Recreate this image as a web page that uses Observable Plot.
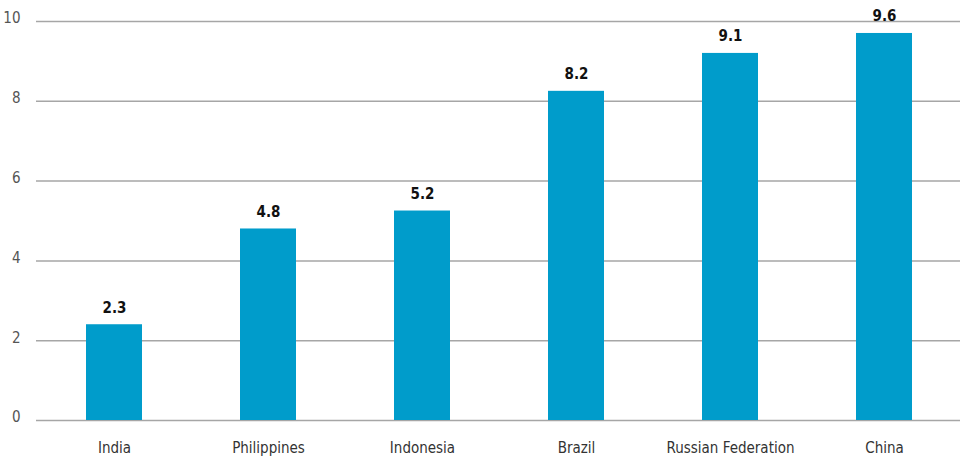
<!DOCTYPE html>
<html>
<head>
<meta charset="utf-8">
<script src="https://cdn.jsdelivr.net/npm/d3@7"></script>
<script src="https://cdn.jsdelivr.net/npm/@observablehq/plot@0.6"></script>
<style>
  html, body { margin: 0; padding: 0; background: #fff; }
  #chart svg { display: block; }
  #chart svg text { font-stretch: condensed; }
</style>
</head>
<body>
<div id="chart"></div>
<script>
const countries = ["India", "Philippines", "Indonesia", "Brazil", "Russian Federation", "China"];
const values = [2.4, 4.8, 5.25, 8.25, 9.2, 9.7];
const labels = ["2.3", "4.8", "5.2", "8.2", "9.1", "9.6"];
const yTicks = [0, 2, 4, 6, 8, 10];

const data = countries.map((c, i) => ({country: c, value: values[i], label: labels[i]}));
const font = "'DejaVu Sans Condensed', 'DejaVu Sans', sans-serif";

const chart = Plot.plot({
  width: 960,
  height: 459,
  marginLeft: 36,
  marginRight: 0,
  marginTop: 21,
  marginBottom: 39,
  style: {fontFamily: font, background: "#fff"},
  x: {domain: countries, range: [36, 963], paddingInner: 0.636, paddingOuter: 0.318, align: 0.5, label: null},
  y: {domain: [0, 10], label: null},
  marks: [
    Plot.ruleY(yTicks, {stroke: "#a6a6a6", strokeWidth: 1.5}),
    Plot.barY(data, {x: "country", y: "value", fill: "#009ccb"}),
    Plot.text(data, {x: "country", y: "value", text: "label", dy: -17, fontWeight: "bold", fontSize: 15, fill: "#111"}),
    Plot.axisY({ticks: yTicks, tickSize: 0, tickPadding: 16, dy: -3, fontSize: 15, color: "#555", textAnchor: "end"}),
    Plot.axisX({tickSize: 0, tickPadding: 22, fontSize: 15, color: "#333"})
  ]
});
document.getElementById("chart").appendChild(chart);
</script>
</body>
</html>
